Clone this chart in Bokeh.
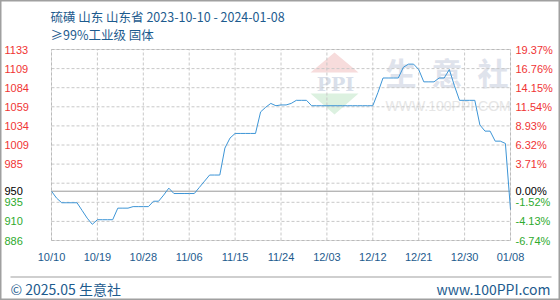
import numpy as np
from bokeh.plotting import figure
from bokeh.models import Range1d, Label, BoxAnnotation, Node, PolyAnnotation
from bokeh.embed import file_html
from bokeh.resources import INLINE

# ---------------- data ----------------
title_line1 = "硫磺 山东 山东省 2023-10-10 - 2024-01-08"
title_line2 = "≥99%工业级 固体"
footer_left = "© 2025.05 生意社"
footer_right = "www.100PPI.com"
watermark_chars = ["生", "意", "社"]
watermark_url = "WWW.100PPI.COM"
watermark_logo = "PPI"

# daily price, 2023-10-10 .. 2024-01-08
prices = [
    950, 941, 935, 935, 935, 935, 925, 915, 907, 913,
    913, 913, 913, 928, 928, 928, 930, 930, 930, 930,
    937, 937, 945, 954, 947, 947, 947, 947, 947, 955,
    963, 971, 971, 971, 1006, 1019, 1025, 1025, 1025, 1025,
    1025, 1053, 1059, 1064, 1061, 1062, 1062, 1064, 1068, 1068,
    1068, 1061, 1061, 1061, 1061, 1061, 1061, 1061, 1061, 1061,
    1061, 1061, 1061, 1061, 1078, 1097, 1097, 1097, 1097, 1111,
    1115, 1115, 1108, 1092, 1092, 1092, 1097, 1097, 1108, 1087,
    1068, 1068, 1068, 1068, 1036, 1028, 1028, 1015, 1015, 1012,
    926,
]
days = list(range(len(prices)))

x_tick_labels = ["10/10", "10/19", "10/28", "11/06", "11/15", "11/24",
                 "12/03", "12/12", "12/21", "12/30", "01/08"]
y_min, y_max = 886, 1134
base_price = 950
left_tick_labels = ["886", "910", "935", "", "985", "1009", "1034",
                    "1059", "1084", "1109", "1133"]
right_tick_labels = ["-6.74%", "-4.13%", "-1.52%", "", "3.71%", "6.32%",
                     "8.93%", "11.54%", "14.15%", "16.76%", "19.37%"]
base_left_label = "950"
base_right_label = "0.00%"

# ---------------- layout / styles ----------------
W, H = 560, 300
BL, BR, BT, BB = 51, 50, 49, 60          # plot-area margins inside the canvas
FW, FH = W - BL - BR, H - BT - BB
BLUE_TXT = "#1d5b8e"
RED = "#f03434"
GREEN = "#2eaa2e"
LINE = "#3d95d6"
GRID = "#c8c8c8"
FRAME = "#9a9a9a"
LAT = "Liberation Sans"
CJK = "Noto Sans CJK SC"

# ranges are widened so that the data area sits inside the canvas margins
pxd = FW / (days[-1] - days[0])
pxu = FH / (y_max - y_min)
x_range = Range1d(days[0] - BL / pxd, days[-1] + BR / pxd)
y_range = Range1d(y_min - BB / pxu, y_max + BT / pxu)

p = figure(width=W, height=H, x_range=x_range, y_range=y_range,
           toolbar_location=None, output_backend="svg",
           x_axis_location=None, y_axis_location=None, min_border=0)
p.xgrid.visible = False
p.ygrid.visible = False
p.outline_line_color = "#a0a0a0"
p.outline_line_width = 2
p.background_fill_color = "white"
p.border_fill_color = "white"

x_ticks = days[::9]
y_ticks = list(np.linspace(y_min, y_max, len(left_tick_labels)))


def cy(y_canvas):
    """canvas y (from top) -> screen y used by annotations (from bottom)"""
    return H - y_canvas


# ---------- watermark (beneath everything) ----------
for i, ch in enumerate(watermark_chars):
    p.add_layout(Label(x=385 + i * 46, y=cy(71), x_units="screen", y_units="screen",
                       text=ch, text_font=CJK, text_font_size="31px", text_font_style="bold",
                       text_color="#dfe3ec", text_align="left", text_baseline="middle",
                       level="image"))
p.add_layout(Label(x=385, y=cy(105), x_units="screen", y_units="screen",
                   text=watermark_url, text_font=LAT, text_font_size="14px",
                   text_color="#e6e6e6", text_align="left", text_baseline="middle",
                   level="image"))
p.add_layout(PolyAnnotation(xs=[310, 334, 358], ys=[cy(72), cy(52), cy(72)],
                            xs_units="screen", ys_units="screen",
                            fill_color="#f7dcdc", fill_alpha=1, line_color=None, level="image"))
p.add_layout(PolyAnnotation(xs=[310, 358, 334], ys=[cy(93), cy(93), cy(114)],
                            xs_units="screen", ys_units="screen",
                            fill_color="#dcf1e0", fill_alpha=1, line_color=None, level="image"))
p.add_layout(Label(x=335, y=cy(83), x_units="screen", y_units="screen",
                   text=watermark_logo, text_font="DejaVu Serif", text_font_size="19px",
                   text_font_style="bold", text_color="#d9dfea", text_align="center",
                   text_baseline="middle", level="image"))

# ---------- grid, base line, frame, series ----------
nx, ny = len(x_ticks), len(y_ticks)
p.segment(x0=x_ticks, x1=x_ticks, y0=[y_min] * nx, y1=[y_max] * nx,
          line_color=GRID, line_dash="3 2", line_width=1)
p.segment(x0=[days[0]] * ny, x1=[days[-1]] * ny, y0=y_ticks, y1=y_ticks,
          line_color=GRID, line_dash="3 2", line_width=1)
p.segment(x0=[days[0]], x1=[days[-1]], y0=[base_price], y1=[base_price],
          line_color=FRAME, line_width=1)
p.line(days, prices, line_color=LINE, line_width=1)
p.add_layout(BoxAnnotation(left=days[0], right=days[-1], bottom=y_min, top=y_max,
                           fill_color=None, fill_alpha=0, line_color=FRAME, line_width=1))

# ---------- tick labels ----------
def ylab(x, yv, text, color):
    p.add_layout(Label(x=x, y=yv, x_units="screen", y_units="data", text=text,
                       text_font=LAT, text_font_size="11px", text_color=color,
                       text_align="left", text_baseline="middle"))

for yv, lt, rt in zip(y_ticks, left_tick_labels, right_tick_labels):
    col = RED if yv > base_price else GREEN
    if lt:
        ylab(4, yv, lt, col)
    if rt:
        ylab(BL + FW + 5, yv, rt, col)
ylab(4, base_price, base_left_label, "black")
ylab(BL + FW + 5, base_price, base_right_label, "black")

for t, lab in zip(x_ticks, x_tick_labels):
    p.add_layout(Label(x=t, y=cy(256.5), x_units="data", y_units="screen", text=lab,
                       text_font=LAT, text_font_size="11px", text_color=BLUE_TXT,
                       text_align="center", text_baseline="middle"))

# ---------- titles / footer ----------
def txt(x, y_canvas, text, align="left", size="12.5px"):
    p.add_layout(Label(x=x, y=cy(y_canvas), x_units="screen", y_units="screen",
                       text=text, text_font=CJK, text_font_size=size,
                       text_color=BLUE_TXT, text_align=align, text_baseline="middle"))

txt(50, 15.5, title_line1)
txt(50, 33.5, title_line2)
txt(10, 288, footer_left, size="14px")
txt(550, 288, footer_right, align="right", size="14px")

p.add_layout(BoxAnnotation(left=Node(target="canvas", symbol="left", offset=10),
                           right=Node(target="canvas", symbol="left", offset=551),
                           top=Node(target="canvas", symbol="top", offset=276),
                           bottom=Node(target="canvas", symbol="top", offset=277),
                           fill_color="#a0a0a0", fill_alpha=1, line_color=None))

open("out.html", "w").write(file_html(p, INLINE))
